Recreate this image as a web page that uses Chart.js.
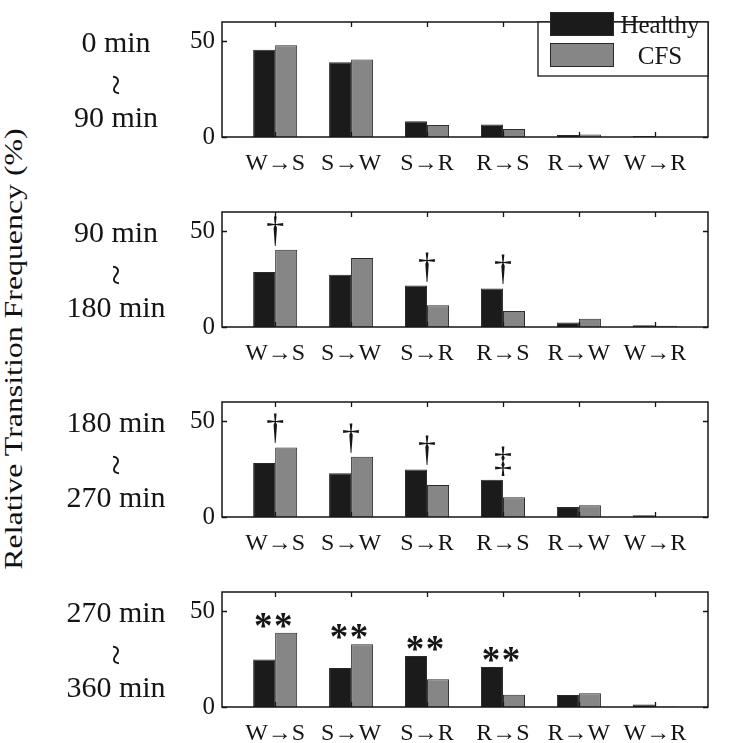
<!DOCTYPE html>
<html>
<head>
<meta charset="utf-8">
<script src="https://cdn.jsdelivr.net/npm/chart.js@4.4.1/dist/chart.umd.min.js"></script>
<style>
html,body{margin:0;padding:0;width:748px;height:743px;overflow:hidden;background:#fff;}
canvas.panel{position:absolute;left:0;}
#ytitle{position:absolute;left:14px;top:348.5px;font-family:'Liberation Serif','Times New Roman',serif;font-size:26px;line-height:1;white-space:nowrap;color:#111;transform-origin:center center;}
</style>
</head>
<body>
<div id="ytitle">Relative Transition Frequency (%)</div>
<canvas class="panel" id="c0" width="748" height="173" style="top:0px"></canvas>
<canvas class="panel" id="c1" width="748" height="173" style="top:190px"></canvas>
<canvas class="panel" id="c2" width="748" height="173" style="top:380px"></canvas>
<canvas class="panel" id="c3" width="748" height="173" style="top:570px"></canvas>
<script>
// ---------------- data ----------------
const categories = ['W→S', 'S→W', 'S→R', 'R→S', 'R→W', 'W→R'];
const seriesNames = ['Healthy', 'CFS'];
const periodStart = ['0 min', '90 min', '180 min', '270 min'];
const periodEnd = ['90 min', '180 min', '270 min', '360 min'];
const yTicks = [0, 50];
const yMax = 60;

const healthy1 = [45.5, 39.0, 8.2, 6.5, 1.0, 0.5];
const cfs1     = [47.9, 40.5, 6.3, 4.2, 1.3, 0.15];
const healthy2 = [28.7, 27.2, 21.6, 20.1, 2.4, 0.9];
const cfs2     = [40.3, 36.0, 11.3, 8.4, 4.3, 0.6];
const healthy3 = [28.2, 22.8, 24.8, 19.4, 5.2, 0.9];
const cfs3     = [36.3, 31.5, 16.7, 10.3, 6.1, 0.0];
const healthy4 = [24.8, 20.4, 26.6, 20.9, 6.3, 1.3];
const cfs4     = [38.7, 32.7, 14.5, 6.4, 7.2, 0.3];

const marks1 = ['', '', '', '', '', ''];
const marks2 = ['†', '', '†', '†', '', ''];
const marks3 = ['†', '†', '†', '‡', '', ''];
const marks4 = ['**', '**', '**', '**', '', ''];

const healthySets = [healthy1, healthy2, healthy3, healthy4];
const cfsSets = [cfs1, cfs2, cfs3, cfs4];
const markSets = [marks1, marks2, marks3, marks4];

// ---------------- styling ----------------
const FONT = "'Liberation Serif', 'Times New Roman', serif";
const colHealthy = '#1b1b1b';
const colCFS = '#868686';
const colEdge = '#2a2a2a';
const ink = '#151515';

(function(){
  const el = document.getElementById('ytitle');
  const w = el.offsetWidth;
  const s = 441 / w;
  el.style.transform = 'translate(-50%,-50%) rotate(-90deg) scaleX(' + s + ')';
})();

const framePlugin = {
  id: 'frame',
  afterDraw(chart) {
    const {ctx, chartArea: a, scales: {x, y}} = chart;
    ctx.save();
    ctx.strokeStyle = ink;
    ctx.lineWidth = 1.3;
    ctx.beginPath();
    x.ticks.forEach(t => {
      const px = Math.round(x.getPixelForValue(t.value)) + 0.5;
      ctx.moveTo(px, a.bottom); ctx.lineTo(px, a.bottom - 5);
      ctx.moveTo(px, a.top); ctx.lineTo(px, a.top + 5);
    });
    y.ticks.forEach(t => {
      const py = Math.round(y.getPixelForValue(t.value)) + 0.5;
      ctx.moveTo(a.left, py); ctx.lineTo(a.left + 5, py);
      ctx.moveTo(a.right, py); ctx.lineTo(a.right - 5, py);
    });
    ctx.stroke();
    ctx.lineWidth = 1.5;
    ctx.strokeRect(a.left, a.top, a.right - a.left, a.bottom - a.top);
    ctx.restore();
  }
};

const marksPlugin = {
  id: 'marks',
  afterDatasetsDraw(chart, args, opts) {
    const labels = opts.labels || [];
    const {ctx, scales: {x, y}} = chart;
    const d0 = chart.data.datasets[0].data, d1 = chart.data.datasets[1].data;
    ctx.save();
    ctx.fillStyle = ink;
    ctx.textAlign = 'center';
    ctx.textBaseline = 'alphabetic';
    labels.forEach((lab, i) => {
      if (!lab) return;
      const v = Math.max(d0[i].y, d1[i].y);
      const py = y.getPixelForValue(v);
      const px = x.getPixelForValue(i);
      if (lab === '**') {
        ctx.font = 'bold 37px ' + FONT;
        const m = ctx.measureText('*');
        const base = py - 5 - m.actualBoundingBoxDescent;
        ctx.fillText('*', px - 12, base);
        ctx.fillText('*', px + 8, base);
      } else {
        ctx.font = '36px ' + FONT;
        const m = ctx.measureText(lab);
        ctx.fillText(lab, px, py - 4 - m.actualBoundingBoxDescent);
      }
    });
    ctx.restore();
  }
};

const periodPlugin = {
  id: 'period',
  afterDraw(chart, args, opts) {
    const ctx = chart.ctx;
    ctx.save();
    ctx.fillStyle = ink;
    ctx.font = '30px ' + FONT;
    ctx.textAlign = 'center';
    ctx.textBaseline = 'alphabetic';
    ctx.fillText(opts.start, 116, 52);
    ctx.fillText(opts.end, 116, 127);
    ctx.translate(114, 85);
    ctx.rotate(Math.PI / 2);
    ctx.textBaseline = 'middle';
    ctx.font = '38px ' + FONT;
    ctx.fillText('~', 0, 0);
    ctx.restore();
  }
};

const legendPlugin = {
  id: 'boxLegend',
  afterDraw(chart, args, opts) {
    if (!opts.show) return;
    const {ctx, chartArea: a} = chart;
    const x0 = 538, y0 = a.top, x1 = a.right, y1 = 76;
    ctx.save();
    ctx.fillStyle = '#fff';
    ctx.fillRect(x0, y0, x1 - x0, y1 - y0);
    ctx.strokeStyle = ink;
    ctx.lineWidth = 1.3;
    ctx.strokeRect(x0, y0, x1 - x0, y1 - y0);
    chart.data.datasets.forEach((ds, i) => {
      const sy = 12 + i * 31;
      ctx.fillStyle = ds.backgroundColor;
      ctx.fillRect(550, sy, 63, 23);
      ctx.strokeStyle = colEdge;
      ctx.lineWidth = 1;
      ctx.strokeRect(550.5, sy + 0.5, 63, 23);
      ctx.fillStyle = ink;
      ctx.font = '25px ' + FONT;
      ctx.textAlign = 'center';
      ctx.textBaseline = 'alphabetic';
      ctx.fillText(ds.label, 660, sy + 21);
    });
    ctx.restore();
  }
};

function makeChart(k) {
  const toPts = arr => arr.map((v, i) => ({x: i, y: v}));
  return new Chart(document.getElementById('c' + k), {
    type: 'bar',
    data: {
      datasets: [
        {label: seriesNames[0], data: toPts(healthySets[k]), backgroundColor: colHealthy, borderColor: colEdge, borderWidth: 1},
        {label: seriesNames[1], data: toPts(cfsSets[k]), backgroundColor: colCFS, borderColor: colEdge, borderWidth: 1}
      ]
    },
    options: {
      responsive: false,
      animation: false,
      layout: {padding: {top: 3, right: 40, bottom: 0, left: 0}},
      datasets: {bar: {categoryPercentage: 0.58, barPercentage: 1.0}},
      plugins: {
        legend: {display: false},
        tooltip: {enabled: false},
        marks: {labels: markSets[k]},
        period: {start: periodStart[k], end: periodEnd[k]},
        boxLegend: {show: k === 0}
      },
      scales: {
        x: {
          type: 'linear', min: -0.7, max: 5.7, offset: false, bounds: 'data',
          grid: {display: false, drawTicks: false},
          border: {display: false},
          afterBuildTicks: ax => { ax.ticks = categories.map((_, i) => ({value: i})); },
          afterFit: ax => { ax.height = 36; },
          ticks: {
            padding: 12, color: ink, maxRotation: 0, autoSkip: false,
            font: {family: FONT, size: 24},
            callback: v => categories[v]
          }
        },
        y: {
          min: 0, max: yMax,
          grid: {display: false, drawTicks: false},
          border: {display: false},
          afterBuildTicks: ax => { ax.ticks = yTicks.map(v => ({value: v})); },
          afterFit: ax => { ax.width = 222; },
          ticks: {padding: 7, color: ink, font: {family: FONT, size: 25}}
        }
      }
    },
    plugins: [framePlugin, marksPlugin, periodPlugin, legendPlugin]
  });
}
for (let k = 0; k < 4; k++) makeChart(k);
</script>
</body>
</html>
